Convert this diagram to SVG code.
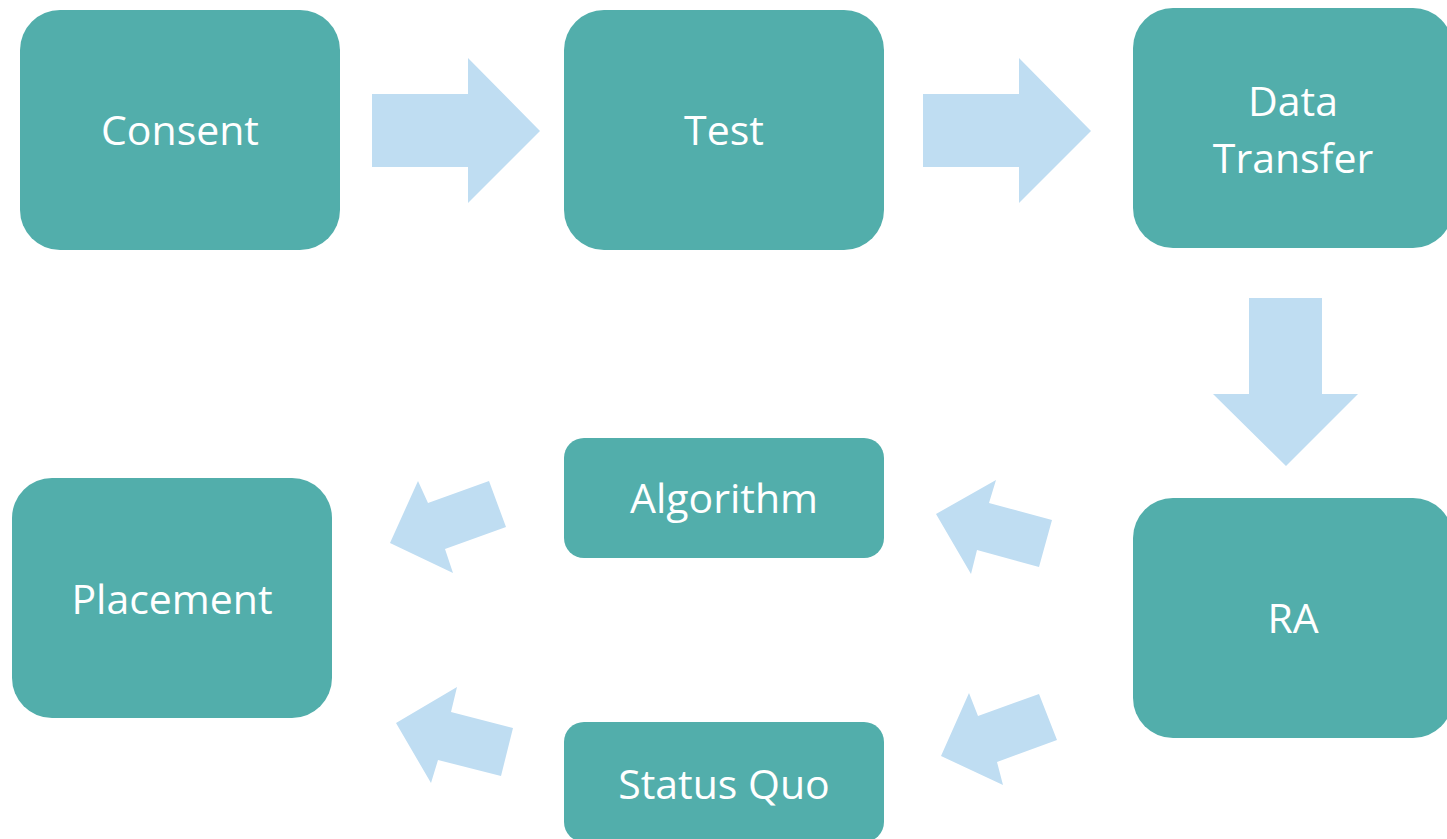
<svg xmlns="http://www.w3.org/2000/svg" width="1447" height="839" viewBox="0 0 1447 839">
<style>
.box{fill:#52AEAB}
.lbl{fill:#FFFFFF;font-family:"Open Sans","Noto Sans",sans-serif;font-size:41px;text-anchor:middle}
.arr{fill:#BFDDF2}
</style>
<rect width="1447" height="839" fill="#FFFFFF"/>
<g id="connectors">
<polygon class="arr" points="372,94 468,94 468,58 540,131 468,203 468,167 372,167"/>
<polygon class="arr" points="923,94 1019,94 1019,58 1091,131 1019,203 1019,167 923,167"/>
<polygon class="arr" points="1249,298 1322,298 1322,394 1358,394 1286,466 1213,394 1249,394"/>
<polygon class="arr" points="1052,520 989,503 996,480 936,514 971,574 977,550 1039,567"/>
<polygon class="arr" points="489,481 428,503 418,481 390,543 453,573 445,549 506,527"/>
<polygon class="arr" points="1039,694 978,716 969,693 941,756 1003,785 997,762 1057,740"/>
<polygon class="arr" points="513,728 451,712 457,687 396,723 431,783 438,760 501,776"/>
</g>
<g id="consent"><rect class="box" x="20" y="10" width="320" height="240" rx="40"/><text class="lbl" x="180" y="145">Consent</text></g>
<g id="test"><rect class="box" x="564" y="10" width="320" height="240" rx="40"/><text class="lbl" x="724" y="145">Test</text></g>
<g id="data-transfer"><rect class="box" x="1133" y="8" width="320" height="240" rx="40"/><text class="lbl" x="1293" y="116">Data</text><text class="lbl" x="1293" y="173">Transfer</text></g>
<g id="ra"><rect class="box" x="1133" y="498" width="320" height="240" rx="40"/><text class="lbl" x="1293" y="633">RA</text></g>
<g id="algorithm"><rect class="box" x="564" y="438" width="320" height="120" rx="20"/><text class="lbl" x="724" y="513">Algorithm</text></g>
<g id="placement"><rect class="box" x="12" y="478" width="320" height="240" rx="40"/><text class="lbl" x="172" y="614">Placement</text></g>
<g id="status-quo"><rect class="box" x="564" y="722" width="320" height="120" rx="20"/><text class="lbl" x="724" y="799">Status Quo</text></g>
</svg>
